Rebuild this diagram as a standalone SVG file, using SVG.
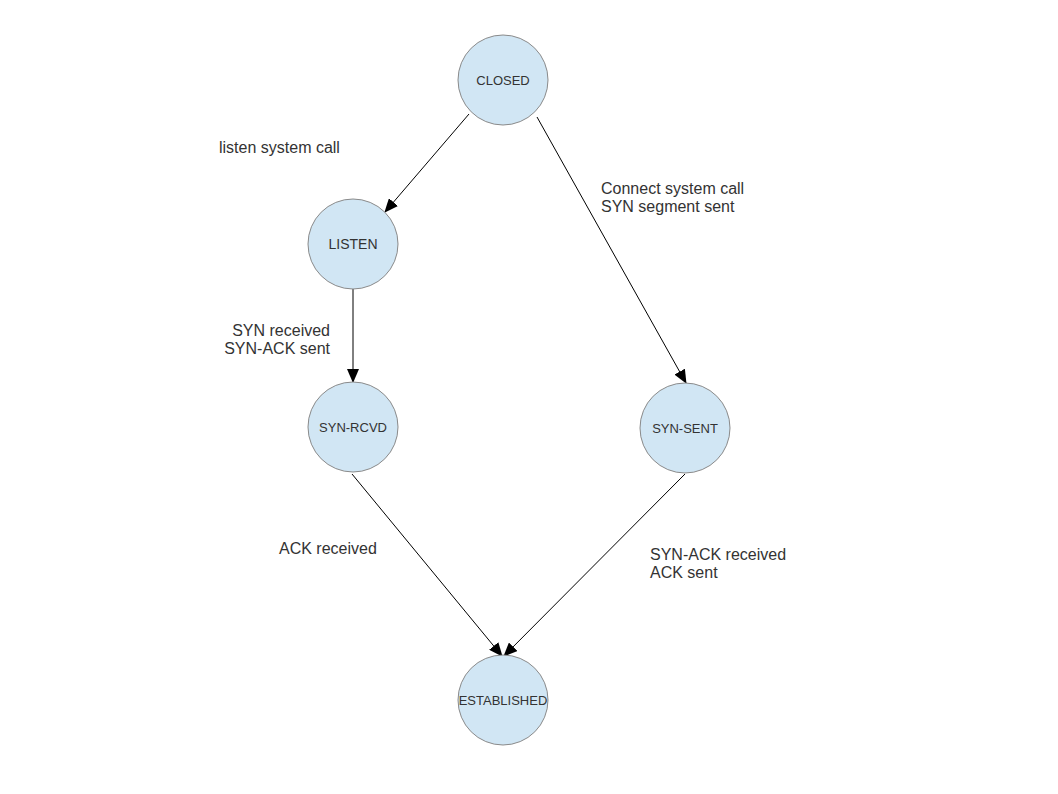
<svg xmlns="http://www.w3.org/2000/svg" width="1058" height="794" viewBox="0 0 1058 794">
<defs>
<style>
.node circle{fill:#d1e6f4;stroke:#8a8a8a;stroke-width:1}
.node text{font-family:"Liberation Sans",Arial,sans-serif;font-size:13px;fill:#333;text-anchor:middle;dominant-baseline:central}
.edge line{stroke:#000;stroke-width:1;marker-end:url(#arrow)}
.lbl{font-family:"Liberation Sans",Arial,sans-serif;font-size:16px;fill:#333}
</style>
<marker id="arrow" markerUnits="userSpaceOnUse" markerWidth="14" markerHeight="12" refX="13" refY="6" orient="auto">
<path d="M0,0 L14,6 L0,12 z" fill="#000"/>
</marker>
</defs>
<rect width="1058" height="794" fill="#fff"/>
<g id="connectors" class="edge">
<line x1="469" y1="114" x2="385" y2="212"/>
<line x1="537" y1="117" x2="686" y2="383"/>
<line x1="353" y1="289" x2="353" y2="382"/>
<line x1="352" y1="474" x2="502" y2="656"/>
<line x1="685" y1="474" x2="504" y2="656"/>
</g>
<g id="closed" class="node"><circle cx="503" cy="80" r="45"/><text x="503" y="80">CLOSED</text></g>
<g id="listen" class="node"><circle cx="353" cy="244" r="45"/><text x="353" y="244" style="font-size:14px">LISTEN</text></g>
<g id="syn-rcvd" class="node"><circle cx="353" cy="427" r="45"/><text x="353" y="427">SYN-RCVD</text></g>
<g id="syn-sent" class="node"><circle cx="685" cy="428" r="45"/><text x="685" y="428">SYN-SENT</text></g>
<g id="established" class="node"><circle cx="503" cy="700" r="45"/><text x="503" y="700">ESTABLISHED</text></g>
<g id="labels">
<text class="lbl" x="219" y="153">listen system call</text>
<text class="lbl" x="601" y="194">Connect system call</text>
<text class="lbl" x="601" y="212">SYN segment sent</text>
<text class="lbl" x="330" y="336" text-anchor="end">SYN received</text>
<text class="lbl" x="330" y="354" text-anchor="end">SYN-ACK sent</text>
<text class="lbl" x="279" y="554">ACK received</text>
<text class="lbl" x="650" y="560">SYN-ACK received</text>
<text class="lbl" x="650" y="578">ACK sent</text>
</g>
</svg>
